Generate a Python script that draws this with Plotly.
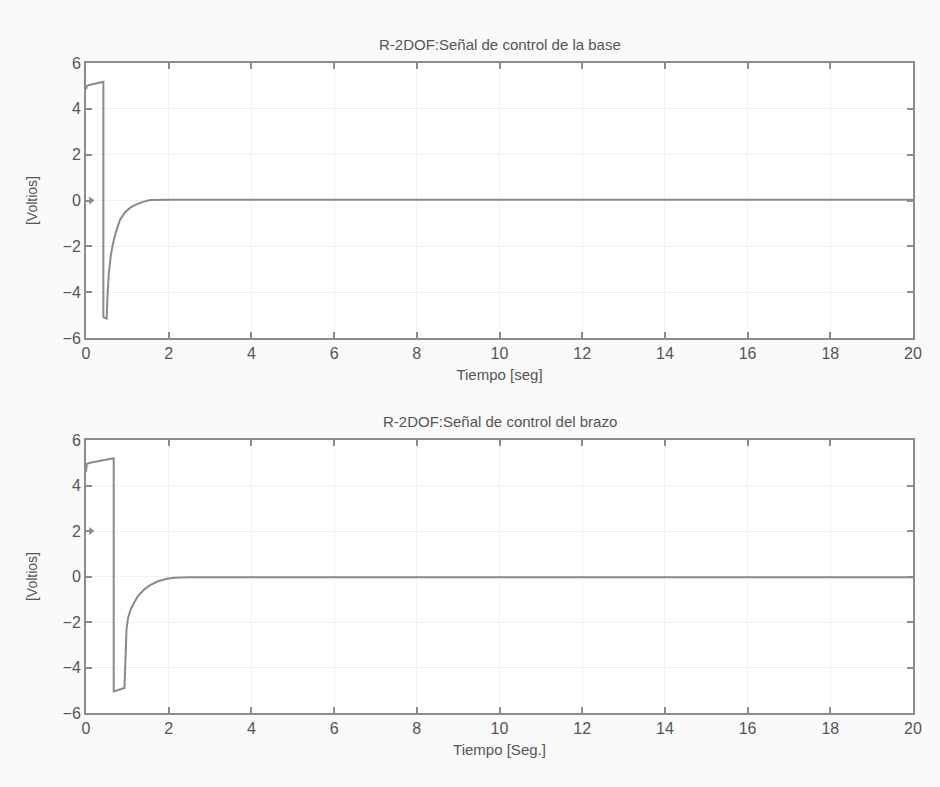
import plotly.graph_objects as go

# Control signal of the base joint (time in s, voltage in V)
t_base = [0, 0.02, 0.1, 0.2, 0.3, 0.42, 0.42, 0.5, 0.52, 0.55, 0.6, 0.65, 0.72, 0.82, 0.95,
          1.08, 1.22, 1.38, 1.55, 2, 5, 10, 15, 20]
u_base = [4.85, 5.0, 5.05, 5.1, 5.13, 5.18, -5.1, -5.15, -4.2, -3.2, -2.4, -1.9, -1.4, -0.85,
          -0.5, -0.3, -0.17, -0.06, 0.02, 0.03, 0.03, 0.03, 0.03, 0.03]

# Control signal of the arm joint
t_arm = [0, 0.02, 0.1, 0.3, 0.5, 0.67, 0.67, 0.93, 0.96, 0.98, 1.02, 1.08, 1.16, 1.26, 1.4,
         1.55, 1.73, 1.95, 2.14, 2.47, 5, 10, 15, 20]
u_arm = [4.6, 4.95, 5.0, 5.08, 5.14, 5.2, -5.05, -4.9, -3.4, -2.3, -1.8, -1.45, -1.16, -0.85,
         -0.58, -0.38, -0.22, -0.1, -0.05, -0.03, -0.03, -0.03, -0.03, -0.03]

# Small arrow marks just inside the left axis (time, voltage)
mark_base_t, mark_base_v = [0.12], [0]
mark_arm_t, mark_arm_v = [0.12], [2]

x_ticks = list(range(0, 21, 2))
y_ticks = list(range(-6, 7, 2))

titles = ["R-2DOF:Señal de control de la base", "R-2DOF:Señal de control del brazo"]
x_titles = ["Tiempo [seg]", "Tiempo [Seg.]"]
y_title = "[Voltios]"

line_col = "#8a8a8a"
frame_col = "#8c8c8c"
text_col = "#555555"
font_family = "Liberation Sans, Arial, sans-serif"

fig = go.Figure()
fig.add_trace(go.Scatter(x=t_base, y=u_base, mode="lines", line=dict(color=line_col, width=2),
                         xaxis="x", yaxis="y", showlegend=False))
fig.add_trace(go.Scatter(x=t_arm, y=u_arm, mode="lines", line=dict(color=line_col, width=2),
                         xaxis="x2", yaxis="y2", showlegend=False))
fig.add_trace(go.Scatter(x=mark_base_t, y=mark_base_v, mode="markers",
                         marker=dict(symbol="triangle-right", size=7, color="#8a8a8a"),
                         xaxis="x", yaxis="y", showlegend=False))
fig.add_trace(go.Scatter(x=mark_arm_t, y=mark_arm_v, mode="markers",
                         marker=dict(symbol="triangle-right", size=7, color="#8a8a8a"),
                         xaxis="x2", yaxis="y2", showlegend=False))

axis_common = dict(showline=True, linecolor=frame_col, linewidth=2, mirror="ticks",
                   ticks="inside", ticklen=6, tickcolor=frame_col, tickwidth=1.5,
                   showgrid=True, gridcolor="#f1f1f1", gridwidth=1, zeroline=False,
                   tickfont=dict(size=16, color=text_col, family=font_family))

H = 787
top1, bot1 = 63, 338
top2, bot2 = 440, 713
mt, mb = 63, H - 713
ph = H - mt - mb

def dom(top, bot):
    return [(H - mb - bot) / ph, (H - mb - top) / ph]

fig.update_layout(
    width=940, height=H,
    margin=dict(l=86, r=27, t=mt, b=mb),
    paper_bgcolor="#fafafa", plot_bgcolor="#ffffff",
    font=dict(family=font_family, color=text_col),
    xaxis=dict(axis_common, domain=[0, 1], anchor="y", range=[0, 20], tickvals=x_ticks,
               title=dict(text=x_titles[0], font=dict(size=15, color=text_col), standoff=8)),
    yaxis=dict(axis_common, domain=dom(top1, bot1), anchor="x", range=[-6, 6], tickvals=y_ticks,
               title=dict(text=y_title, font=dict(size=14, color=text_col), standoff=22)),
    xaxis2=dict(axis_common, domain=[0, 1], anchor="y2", range=[0, 20], tickvals=x_ticks,
                title=dict(text=x_titles[1], font=dict(size=15, color=text_col), standoff=8)),
    yaxis2=dict(axis_common, domain=dom(top2, bot2), anchor="x2", range=[-6, 6], tickvals=y_ticks,
                title=dict(text=y_title, font=dict(size=14, color=text_col), standoff=22)),
    annotations=[
        dict(text=titles[0], xref="paper", yref="paper", x=0.5, y=dom(top1, bot1)[1],
             yanchor="bottom", yshift=8, showarrow=False, font=dict(size=15, color=text_col)),
        dict(text=titles[1], xref="paper", yref="paper", x=0.5, y=dom(top2, bot2)[1],
             yanchor="bottom", yshift=8, showarrow=False, font=dict(size=15, color=text_col)),
    ],
)

fig.write_html("out.html")
